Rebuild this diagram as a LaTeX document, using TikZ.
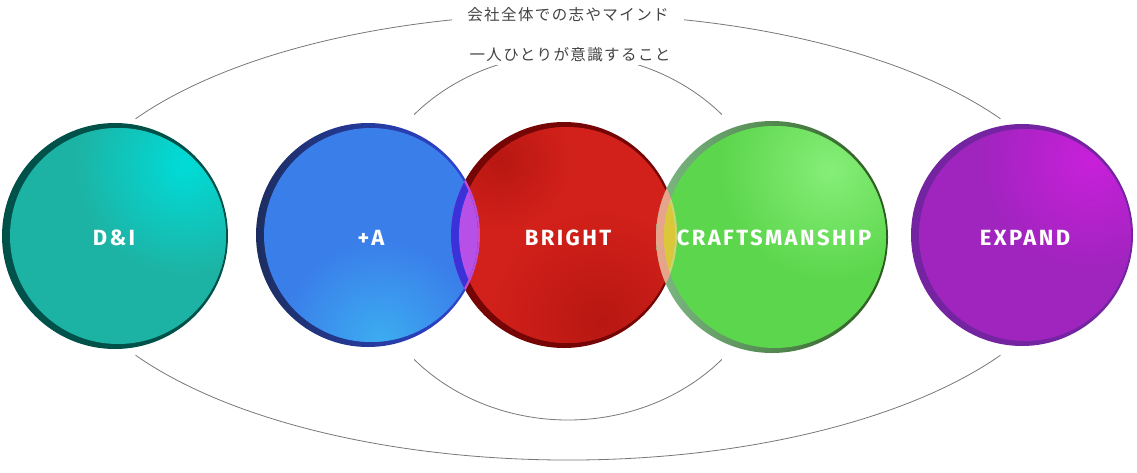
\documentclass[tikz,border=0pt]{standalone}
\usepackage{fontspec}
\newfontfamily\labfont{Fira Sans}[LetterSpace=11]
\newfontfamily\jpfont{Noto Sans CJK JP}[LetterSpace=9]
\definecolor{arcgray}{HTML}{777777}
\definecolor{jpgray}{HTML}{444444}
% teal
\definecolor{tdark}{HTML}{00514A}
\definecolor{tbase}{HTML}{1DB3A4}
\definecolor{tlight}{HTML}{00DCD8}
% blue
\definecolor{bdarkL}{HTML}{1C2E60}
\definecolor{bdarkR}{HTML}{3046D8}
\definecolor{bbase}{HTML}{3A7EEA}
\definecolor{blight}{HTML}{3CACF0}
% red
\definecolor{rdark}{HTML}{760606}
\definecolor{rbase}{HTML}{D2201A}
\definecolor{rshade}{HTML}{B81712}
% green
\definecolor{gdarkL}{HTML}{7DB884}
\definecolor{gdarkR}{HTML}{2A5A1E}
\definecolor{gbase}{HTML}{5CD64C}
\definecolor{glight}{HTML}{86EE78}
% purple
\definecolor{pdark}{HTML}{7424A0}
\definecolor{pbase}{HTML}{A024BE}
\definecolor{plight}{HTML}{C820DA}
% overlaps
\definecolor{brring}{HTML}{C848C8}
\definecolor{rbring}{HTML}{3A32D8}
\definecolor{brlens}{HTML}{B650E6}
\definecolor{grring}{HTML}{E6A48A}
\definecolor{rgring}{HTML}{C2D872}
\definecolor{grlens}{HTML}{DCC63A}
\tikzset{
  arcline/.style={draw=arcgray, line width=0.8pt},
  jplabel/.style={fill=white, text=jpgray, inner xsep=15pt, inner ysep=3pt,
    font=\jpfont\fontsize{15.5}{15.5}\selectfont},
  bubble/.style={circle, text=white, inner sep=0pt,
    font=\labfont\bfseries\fontsize{22}{22}\selectfont},
}
\begin{document}
\begin{tikzpicture}[x=1pt, y=-1pt]
\useasboundingbox (0,0) rectangle (1137,472);
% ---- arcs ----
\draw[arcline] ([shift={(568,237)}]212:510 and 223) coordinate (otl)
  arc[start angle=212, end angle=328, x radius=510, y radius=223] coordinate (otr);
\draw[arcline] ([shift={(568,237)}]148:510 and 223) coordinate (obl)
  arc[start angle=148, end angle=32, x radius=510, y radius=223] coordinate (obr);
\draw[arcline] ([shift={(568,237)}]222:207 and 183) coordinate (itl)
  arc[start angle=222, end angle=318, x radius=207, y radius=183] coordinate (itr);
\draw[arcline] ([shift={(568,237)}]138:207 and 183) coordinate (ibl)
  arc[start angle=138, end angle=42, x radius=207, y radius=183] coordinate (ibr);
\node[jplabel] (tout) at (568,15) {会社全体での志やマインド};
\node[jplabel] (tin) at (570,55) {一人ひとりが意識すること};
% ---- teal D&I ----
\fill[tdark] (115,236) circle[radius=113];
\fill[tbase] (118,236) circle[radius=108];
\begin{scope}
  \clip (118,236) circle[radius=108];
  \shade[inner color=tlight, outer color=tbase] (185,165) circle[radius=110];
\end{scope}
% ---- purple EXPAND ----
\fill[pdark] (1022,235) circle[radius=111];
\fill[pbase] (1025,235) circle[radius=106];
\begin{scope}
  \clip (1025,235) circle[radius=106];
  \shade[inner color=plight, outer color=pbase] (1090,160) circle[radius=110];
\end{scope}
% ---- red BRIGHT ----
\fill[rdark] (564,235) circle[radius=113];
\fill[rbase] (567,235) circle[radius=108];
\begin{scope}
  \clip (567,235) circle[radius=108];
  \shade[inner color=rshade, outer color=rbase] (600,320) circle[radius=110];
  \shade[inner color=rshade, outer color=rbase] (500,160) circle[radius=70];
\end{scope}
% ---- blue +A ----
\shade[left color=bdarkL, right color=bdarkR] (368,235) circle[radius=112];
\fill[bbase] (371,235) circle[radius=107];
\begin{scope}
  \clip (371,235) circle[radius=107];
  \shade[inner color=blight, outer color=bbase] (380,340) circle[radius=100];
\end{scope}
\begin{scope}
  \clip (564,235) circle[radius=113];
  \fill[brring] (368,235) circle[radius=112];
\end{scope}
\begin{scope}
  \clip (371,235) circle[radius=107];
  \fill[rbring] (564,235) circle[radius=113];
  \fill[brlens] (567,235) circle[radius=108];
\end{scope}
% ---- green CRAFTSMANSHIP ----
\shade[left color=gdarkL, right color=gdarkR] (772,237) circle[radius=116];
\fill[gbase] (775,237) circle[radius=111];
\begin{scope}
  \clip (775,237) circle[radius=111];
  \shade[inner color=glight, outer color=gbase] (830,170) circle[radius=110];
\end{scope}
\begin{scope}
  \clip (564,235) circle[radius=113];
  \fill[grring] (772,237) circle[radius=116];
\end{scope}
\begin{scope}
  \clip (775,237) circle[radius=111];
  \fill[rgring] (564,235) circle[radius=113];
  \fill[grlens] (567,235) circle[radius=108];
\end{scope}
% ---- labels ----
\node[bubble] (dni) at (114,238) {D\&I};
\node[bubble] (plusa) at (371,238) {+A};
\node[bubble] (bright) at (568,238) {BRIGHT};
\node[bubble] (craft) at (774,238) {CRAFTSMANSHIP};
\node[bubble] (expand) at (1025,238) {EXPAND};
\end{tikzpicture}
\end{document}
